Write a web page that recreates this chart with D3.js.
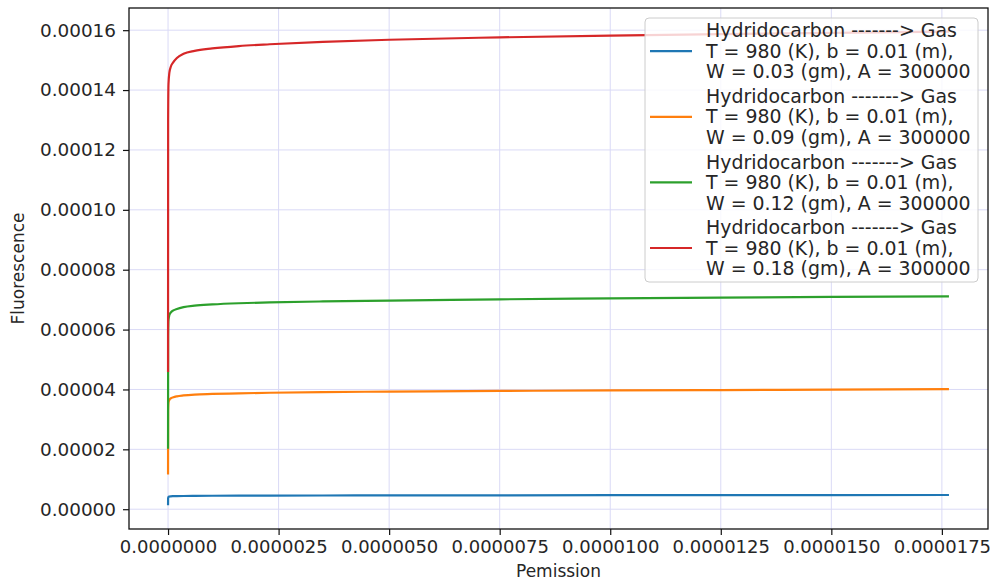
<!DOCTYPE html>
<html>
<head>
<meta charset="utf-8">
<script src="https://cdn.jsdelivr.net/npm/d3@7/dist/d3.min.js"></script>
<style>
  html, body { margin: 0; padding: 0; background: #fff; }
  svg { display: block; font-family: "DejaVu Sans", sans-serif; }
</style>
</head>
<body>
<svg id="chart" width="992" height="583"></svg>
<script>
// Permission values (shared sample points for every series)
const permission = [0, 2e-9, 1e-8, 3e-8, 6e-8, 1.2e-7, 2e-7, 3.5e-7, 6e-7, 1e-6, 1.6e-6, 2.3e-6,
                    3.5e-6, 5e-6, 7.5e-6, 1e-5, 1.25e-5, 1.5e-5, 1.766e-5];

// Fluorescence for each sample mass W
const fluorW003 = [1.3e-6, 3.7e-6, 4.05e-6, 4.22e-6, 4.3e-6, 4.35e-6, 4.38e-6, 4.42e-6, 4.46e-6, 4.5e-6, 4.53e-6, 4.55e-6,
                   4.58e-6, 4.6e-6, 4.65e-6, 4.68e-6, 4.7e-6, 4.72e-6, 4.75e-6];
const fluorW009 = [1.16e-5, 3.3e-5, 3.56e-5, 3.65e-5, 3.7e-5, 3.74e-5, 3.77e-5, 3.8e-5, 3.83e-5, 3.85e-5, 3.87e-5, 3.89e-5,
                   3.91e-5, 3.93e-5, 3.95e-5, 3.97e-5, 3.98e-5, 3.995e-5, 4.01e-5];
const fluorW012 = [2.02e-5, 5.8e-5, 6.32e-5, 6.49e-5, 6.57e-5, 6.64e-5, 6.69e-5, 6.75e-5, 6.8e-5, 6.84e-5, 6.88e-5, 6.91e-5,
                   6.94e-5, 6.97e-5, 7.01e-5, 7.04e-5, 7.07e-5, 7.09e-5, 7.11e-5];
const fluorW018 = [4.58e-5, 1.30e-4, 1.42e-4, 1.458e-4, 1.477e-4, 1.493e-4, 1.507e-4, 1.521e-4, 1.531e-4, 1.539e-4, 1.547e-4, 1.553e-4,
                   1.561e-4, 1.568e-4, 1.576e-4, 1.582e-4, 1.587e-4, 1.591e-4, 1.595e-4];

const seriesLabels = [
  ["Hydridocarbon -------> Gas", "T = 980 (K), b = 0.01 (m),", "W = 0.03 (gm), A = 300000"],
  ["Hydridocarbon -------> Gas", "T = 980 (K), b = 0.01 (m),", "W = 0.09 (gm), A = 300000"],
  ["Hydridocarbon -------> Gas", "T = 980 (K), b = 0.01 (m),", "W = 0.12 (gm), A = 300000"],
  ["Hydridocarbon -------> Gas", "T = 980 (K), b = 0.01 (m),", "W = 0.18 (gm), A = 300000"]
];
const seriesColors = ["#1f77b4", "#ff7f0e", "#2ca02c", "#d62728"];

const xTicks = [0, 2.5e-6, 5e-6, 7.5e-6, 1e-5, 1.25e-5, 1.5e-5, 1.75e-5];
const yTicks = [0, 2e-5, 4e-5, 6e-5, 8e-5, 1e-4, 1.2e-4, 1.4e-4, 1.6e-4];

const allSeries = [fluorW003, fluorW009, fluorW012, fluorW018];

// Plot area
const L = 129, R = 988, T = 8, B = 529;
const svg = d3.select("#chart");

// Domains padded by 5% on each side
function padded(lo, hi) { const p = (hi - lo) * 0.05; return [lo - p, hi + p]; }
const xExt = d3.extent(permission);
const yExt = [d3.min(allSeries, s => d3.min(s)), d3.max(allSeries, s => d3.max(s))];
const x = d3.scaleLinear().domain(padded(xExt[0], xExt[1])).range([L, R]);
const y = d3.scaleLinear().domain(padded(yExt[0], yExt[1])).range([B, T]);

const FONT = 18;
const LEGEND_FONT = 18.9;
const textColor = "#262626";

// Grid
const grid = svg.append("g").attr("stroke", "#dadaf6").attr("stroke-width", 1);
xTicks.forEach(t => grid.append("line")
  .attr("x1", x(t)).attr("x2", x(t)).attr("y1", T).attr("y2", B));
yTicks.forEach(t => grid.append("line")
  .attr("x1", L).attr("x2", R).attr("y1", y(t)).attr("y2", y(t)));

// Lines
svg.append("clipPath").attr("id", "plotClip")
  .append("rect").attr("x", L).attr("y", T).attr("width", R - L).attr("height", B - T);
const line = d3.line().x(d => x(d[0])).y(d => y(d[1])).curve(d3.curveMonotoneX);
const linesG = svg.append("g").attr("clip-path", "url(#plotClip)");
allSeries.forEach((s, i) => {
  linesG.append("path")
    .datum(permission.map((p, k) => [p, s[k]]))
    .attr("d", line)
    .attr("fill", "none")
    .attr("stroke", seriesColors[i])
    .attr("stroke-width", 2.2)
    .attr("stroke-linejoin", "round")
    .attr("stroke-linecap", "butt");
});

// Axes
const xAxis = d3.axisBottom(x).tickValues(xTicks).tickFormat(d3.format(".7f"))
  .tickSize(6).tickPadding(5);
const yAxis = d3.axisLeft(y).tickValues(yTicks).tickFormat(d3.format(".5f"))
  .tickSize(6).tickPadding(7);

const gx = svg.append("g").attr("transform", `translate(0,${B})`).call(xAxis);
const gy = svg.append("g").attr("transform", `translate(${L},0)`).call(yAxis);
[gx, gy].forEach(g => {
  g.select(".domain").remove();
  g.selectAll(".tick line").attr("stroke", "#111").attr("stroke-width", 1.2);
  g.selectAll(".tick text").attr("fill", textColor)
    .style("font-size", FONT + "px").style("font-family", "DejaVu Sans");
});
gy.selectAll(".tick text").style("font-size", "18.4px");

// Frame
svg.append("rect").attr("x", L).attr("y", T).attr("width", R - L).attr("height", B - T)
  .attr("fill", "none").attr("stroke", "#111").attr("stroke-width", 1.3);

// Axis titles
svg.append("text").attr("x", (L + R) / 2).attr("y", 577)
  .attr("text-anchor", "middle").attr("fill", textColor)
  .style("font-size", "17px").text("Pemission");
svg.append("text")
  .attr("transform", `translate(24,${(T + B) / 2}) rotate(-90)`)
  .attr("text-anchor", "middle").attr("fill", textColor)
  .style("font-size", "17px").text("Fluorescence");

// Legend
const legend = svg.append("g");
legend.append("rect")
  .attr("x", 645).attr("y", 18).attr("width", 333).attr("height", 264)
  .attr("rx", 4).attr("ry", 4)
  .attr("fill", "#fff").attr("fill-opacity", 0.8)
  .attr("stroke", "#cccccc").attr("stroke-width", 1);
seriesLabels.forEach((lines, i) => {
  const top = 30.7 + i * 65.6;
  legend.append("line")
    .attr("x1", 650).attr("x2", 692)
    .attr("y1", top + 20.5).attr("y2", top + 20.5)
    .attr("stroke", seriesColors[i]).attr("stroke-width", 2.2);
  lines.forEach((txt, j) => {
    legend.append("text")
      .attr("x", 706).attr("y", top + j * 20.5)
      .attr("dy", "0.35em")
      .attr("fill", textColor)
      .style("font-size", LEGEND_FONT + "px")
      .text(txt);
  });
});
</script>
</body>
</html>
